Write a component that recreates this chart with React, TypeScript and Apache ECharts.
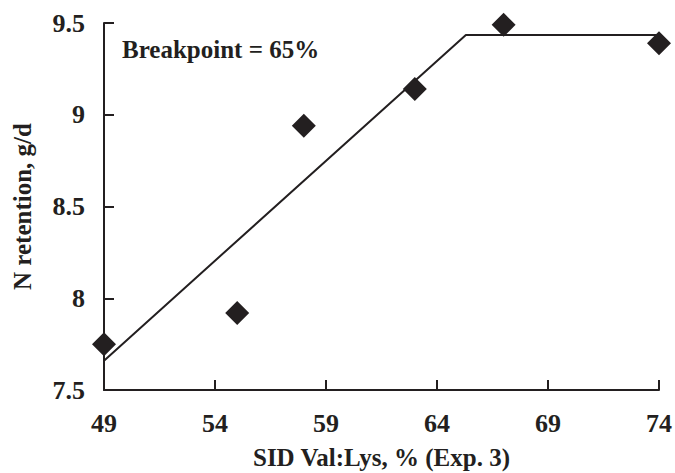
import React, { useEffect, useRef } from "react";
import * as echarts from "echarts";

const xTicks = [49, 54, 59, 64, 69, 74];
const yTicks = [7.5, 8, 8.5, 9, 9.5];
const obsX = [49, 55, 58, 63, 67, 74];
const obsY = [7.75, 7.92, 8.94, 9.14, 9.49, 9.39];
const fitX = [49, 65.3, 74];
const fitY = [7.66, 9.435, 9.435];
const annotation = "Breakpoint = 65%";
const xTitle = "SID Val:Lys, % (Exp. 3)";
const yTitle = "N retention, g/d";

const INK = "#231f20";
const FONT = "'Liberation Serif', 'Times New Roman', serif";

export default function App() {
  const ref = useRef<HTMLDivElement>(null);
  useEffect(() => {
    if (!ref.current) return;
    const chart = echarts.init(ref.current, undefined, { renderer: "svg" });
    chart.setOption({
      animation: false,
      backgroundColor: "#ffffff",
      grid: { left: 104, right: 16, top: 23, bottom: 83, containLabel: false, outerBoundsMode: "none" },
      xAxis: {
        type: "value",
        min: xTicks[0],
        max: xTicks[xTicks.length - 1],
        interval: 5,
        name: xTitle,
        nameLocation: "middle",
        nameGap: 55,
        nameTextStyle: { fontFamily: FONT, fontWeight: "bold", fontSize: 25, lineHeight: 25, color: INK },
        axisLine: { show: true, onZero: false, lineStyle: { color: INK, width: 2 } },
        axisTick: { show: true, inside: true, length: 10, lineStyle: { color: INK, width: 2 } },
        axisLabel: {
          show: true,
          margin: 20,
          fontFamily: FONT,
          fontWeight: "bold",
          fontSize: 26,
          color: INK,
        },
        splitLine: { show: false },
      },
      yAxis: {
        type: "value",
        min: yTicks[0],
        max: yTicks[yTicks.length - 1],
        interval: 0.5,
        name: yTitle,
        nameLocation: "middle",
        nameGap: 69,
        nameRotate: 90,
        nameTextStyle: { fontFamily: FONT, fontWeight: "bold", fontSize: 25, color: INK },
        axisLine: { show: true, onZero: false, lineStyle: { color: INK, width: 2 } },
        axisTick: { show: true, inside: true, length: 10, lineStyle: { color: INK, width: 2 } },
        axisLabel: {
          show: true,
          margin: 19,
          fontFamily: FONT,
          fontWeight: "bold",
          fontSize: 26,
          color: INK,
        },
        splitLine: { show: false },
      },
      graphic: [
        {
          type: "text",
          left: 122,
          top: 37,
          style: {
            text: annotation,
            fontFamily: FONT,
            fontWeight: "bold",
            fontSize: 25,
            fill: INK,
          },
        },
      ],
      series: [
        {
          type: "line",
          data: fitX.map((x, i) => [x, fitY[i]]),
          showSymbol: false,
          symbol: "none",
          lineStyle: { color: INK, width: 2 },
          z: 2,
        },
        {
          type: "scatter",
          data: obsX.map((x, i) => [x, obsY[i]]),
          symbol: "diamond",
          symbolSize: 24,
          itemStyle: { color: INK, opacity: 1 },
          z: 3,
        },
      ],
    });
    return () => chart.dispose();
  }, []);
  return <div ref={ref} style={{ width: 675, height: 473, position: "absolute", left: 0, top: 0 }} />;
}
